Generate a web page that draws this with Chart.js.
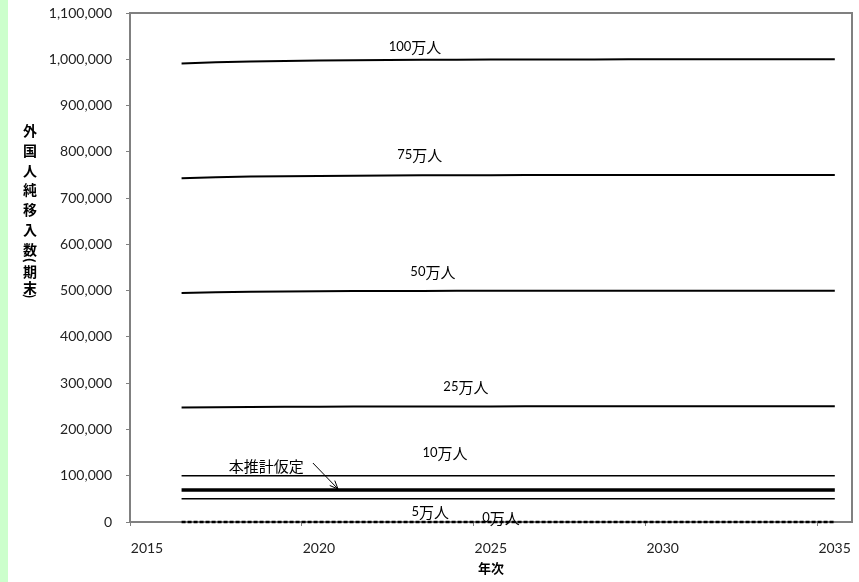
<!DOCTYPE html>
<html><head><meta charset="utf-8">
<script src="https://cdn.jsdelivr.net/npm/chart.js@4"></script>
<style>html,body{margin:0;padding:0;background:#fff}#wrap{width:859px;height:582px;position:relative}</style>
</head><body><div id="wrap"><canvas id="c" width="859" height="582"></canvas></div>
<script>
// ---- data ----
const years = [2016,2017,2018,2019,2020,2021,2022,2023,2024,2025,2026,2027,2028,2029,2030,2031,2032,2033,2034,2035];
const s100 = [991000,993500,995200,996400,997300,998000,998500,998900,999200,999400,999550,999650,999750,999820,999870,999910,999940,999960,999980,1000000];
const s75  = [743000,745000,746400,747300,748000,748500,748900,749200,749400,749550,749650,749750,749820,749870,749910,749940,749960,749975,749990,750000];
const s50  = [495000,496500,497500,498200,498700,499000,499250,499450,499600,499700,499780,499840,499880,499910,499940,499960,499975,499985,499995,500000];
const s25  = [247500,248200,248700,249000,249250,249450,249600,249700,249780,249840,249880,249910,249940,249960,249975,249985,249990,249995,249998,250000];
const s10  = [100000,100000,100000,100000,100000,100000,100000,100000,100000,100000,100000,100000,100000,100000,100000,100000,100000,100000,100000,100000];
const sBase= [69275,69275,69275,69275,69275,69275,69275,69275,69275,69275,69275,69275,69275,69275,69275,69275,69275,69275,69275,69275];
const s5   = [50000,50000,50000,50000,50000,50000,50000,50000,50000,50000,50000,50000,50000,50000,50000,50000,50000,50000,50000,50000];
const s0   = [0,0,0,0,0,0,0,0,0,0,0,0,0,0,0,0,0,0,0,0];
const xTickLabels = ['2015','2020','2025','2030','2035'];
const xTickPositions = [2014.5,2019.5,2024.5,2029.5,2034.5];
const yTickValues = [0,100000,200000,300000,400000,500000,600000,700000,800000,900000,1000000,1100000];
const yTitle = '外国人純移入数（期末）';
const xTitle = '年次';
const seriesLabels = ['100万人','75万人','50万人','25万人','10万人','本推計仮定','5万人','0万人'];

// label anchors (data coordinates)
const annotations = [
  {text:'100万人', x:2022.79, y:1026600},
  {text:'75万人',  x:2022.93, y:793200},
  {text:'50万人',  x:2023.31, y:540300},
  {text:'25万人',  x:2024.27, y:291800},
  {text:'10万人',  x:2023.66, y:149100},
  {text:'本推計仮定', x:2018.46, y:121000},
  {text:'5万人',   x:2023.23, y:21600},
  {text:'0万人',   x:2025.29, y:8600}
];
const arrow = {x1:2019.82, y1:127500, x2:2020.55, y2:71300};

const LAT = '13px Lato, sans-serif';
const CJK = '15px "Noto Sans CJK JP", sans-serif';
const pts = arr => years.map((yr,i)=>({x:yr, y:arr[i]}));
function ds(label, arr, width, dash){
  return {label, data:pts(arr), borderColor:'#000', backgroundColor:'#000', borderWidth:width,
    borderDash: dash||[], pointRadius:0, tension:0, fill:false, clip:false};
}
function runs(text){
  const out = [];
  for (const ch of text){
    const cjk = ch.charCodeAt(0) > 0x2000;
    if (out.length && out[out.length-1].cjk === cjk) out[out.length-1].t += ch;
    else out.push({t:ch, cjk});
  }
  return out;
}
function mixedText(c, text, cx, cy){
  const rs = runs(text);
  let w = 0;
  rs.forEach(r=>{ c.font = r.cjk ? CJK : LAT; r.w = c.measureText(r.t).width; w += r.w; });
  let x = cx - w/2;
  c.textAlign = 'left';
  rs.forEach(r=>{ c.font = r.cjk ? CJK : LAT; c.fillText(r.t, x, cy); x += r.w; });
}

const bgPlugin = {
  id:'bg',
  beforeDraw(chart){
    const c = chart.ctx;
    c.save();
    c.fillStyle = '#fff'; c.fillRect(0,0,chart.width,chart.height);
    c.fillStyle = '#ccffcc'; c.fillRect(0,0,8,chart.height);
    c.restore();
  },
  beforeDatasetsDraw(chart){
    const a = chart.chartArea, c = chart.ctx;
    c.save();
    c.strokeStyle = '#808080'; c.lineWidth = 2;
    c.strokeRect(a.left, a.top, a.right-a.left, a.bottom-a.top);
    c.restore();
  },
  afterDatasetsDraw(chart){
    const c = chart.ctx, xs = chart.scales.x, ys = chart.scales.y;
    c.save();
    c.fillStyle = '#000';
    c.textBaseline = 'middle';
    annotations.forEach(a=>{
      mixedText(c, a.text, xs.getPixelForValue(a.x), ys.getPixelForValue(a.y));
    });
    // arrow
    const x1 = xs.getPixelForValue(arrow.x1), y1 = ys.getPixelForValue(arrow.y1);
    const x2 = xs.getPixelForValue(arrow.x2), y2 = ys.getPixelForValue(arrow.y2);
    c.strokeStyle = '#000'; c.lineWidth = 1;
    c.beginPath(); c.moveTo(x1,y1); c.lineTo(x2,y2); c.stroke();
    const ang = Math.atan2(y2-y1, x2-x1), L = 9, w = 0.4;
    c.beginPath();
    c.moveTo(x2 - L*Math.cos(ang-w), y2 - L*Math.sin(ang-w));
    c.lineTo(x2,y2);
    c.lineTo(x2 - L*Math.cos(ang+w), y2 - L*Math.sin(ang+w));
    c.stroke();
    // vertical y title (upright characters, brackets turned)
    c.textAlign = 'center';
    c.font = 'bold 14px "Noto Sans CJK JP", sans-serif';
    const chars = [...yTitle];
    const gaps = {'（':11, '）':9};
    let y = 131;
    chars.forEach((ch,i)=>{
      if (ch === '（' || ch === '）'){
        c.save();
        c.translate(30, y);
        c.rotate(Math.PI/2);
        c.font = 'bold 13px "Noto Sans CJK JP", sans-serif';
        c.fillText(ch === '（' ? '(' : ')', 0, 0);
        c.restore();
      } else {
        c.fillText(ch, 30, y);
      }
      const next = chars[i+1];
      if (next === undefined) return;
      if (ch === '（') y += 11;
      else if (next === '（') y += 11;
      else if (next === '）') y += 9;
      else if (ch === '期') y += 16;
      else y += 19.7;
    });
    c.restore();
  }
};

new Chart(document.getElementById('c').getContext('2d'), {
  type:'line',
  data:{datasets:[
    ds(seriesLabels[0], s100, 2),
    ds(seriesLabels[1], s75, 2),
    ds(seriesLabels[2], s50, 2),
    ds(seriesLabels[3], s25, 2),
    ds(seriesLabels[4], s10, 1.5),
    ds(seriesLabels[5], sBase, 3.5),
    ds(seriesLabels[6], s5, 1.5),
    ds(seriesLabels[7], s0, 2.5, [4,2])
  ]},
  options:{
    responsive:false, animation:false, devicePixelRatio:1,
    layout:{padding:{left:0, top:13, right:7, bottom:0}},
    plugins:{legend:{display:false}, tooltip:{enabled:false}},
    scales:{
      x:{type:'linear', min:2014.5, max:2035.5,
        afterBuildTicks: s=>{ s.ticks = xTickPositions.map(v=>({value:v})); },
        afterFit: s=>{ s.height = 60; s.paddingLeft = 0; s.paddingRight = 0; },
        grid:{drawOnChartArea:false, drawTicks:true, tickLength:4, color:'#808080', lineWidth:1},
        border:{display:true, color:'#808080', width:2},
        ticks:{labelOffset:17, padding:14, maxRotation:0, minRotation:0, autoSkip:false,
          font:{family:'Lato, sans-serif', size:14}, color:'#222',
          callback:(v,i)=>xTickLabels[i]},
        title:{display:true, text:xTitle, color:'#000', font:{family:'"Noto Sans CJK JP", sans-serif', size:13, weight:'bold'}, padding:{top:0, bottom:6}}
      },
      y:{type:'linear', min:0, max:1100000,
        afterBuildTicks: s=>{ s.ticks = yTickValues.map(v=>({value:v})); },
        afterFit: s=>{ s.width = 130; s.paddingTop = 0; s.paddingBottom = 0; },
        grid:{drawOnChartArea:false, drawTicks:true, tickLength:4, color:'#808080', lineWidth:1},
        border:{display:true, color:'#808080', width:2},
        ticks:{padding:14, font:{family:'Lato, sans-serif', size:14}, color:'#222',
          callback:v=>v.toLocaleString('en-US')}
      }
    }
  },
  plugins:[bgPlugin]
});
</script>
</body></html>
